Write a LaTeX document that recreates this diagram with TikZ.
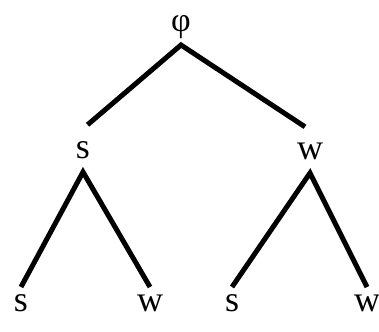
\documentclass[tikz,border=0pt]{standalone}
\usepackage{fontspec}
\setmainfont{Liberation Serif}
\usetikzlibrary{positioning}

\begin{document}
\begin{tikzpicture}[x=1pt,y=1pt,
    lbl/.style={inner sep=0pt,font=\fontsize{36}{36}\selectfont},
    mother/.style={lbl,anchor=south,outer ysep=13pt},
    leaf/.style={lbl,anchor=north,outer ysep=8pt},
    branch/.style={line width=5pt,line join=miter}]
  \useasboundingbox (0,0) rectangle (379,331);
  % root and first level
  \node[mother,outer ysep=6pt,font=\fontsize{34}{34}\selectfont] (phi) at (181,286) {φ};
  \node[mother] (s1) at (83,159) {s};
  \node[mother] (w1) at (310,158) {w};
  % leaves
  \node[leaf] (s2) at (21,44) {s};
  \node[leaf] (w2) at (150,44) {w};
  \node[leaf] (s3) at (232,44) {s};
  \node[leaf] (w3) at (367,44) {w};
  \draw[branch,shorten <=6pt,shorten >=6pt] (s1.north) -- (phi.south) -- (w1.north);
  \draw[branch] (s2.north) -- (s1.south) -- (w2.north);
  \draw[branch] (s3.north) -- (w1.south) -- (w3.north);
\end{tikzpicture}
\end{document}
